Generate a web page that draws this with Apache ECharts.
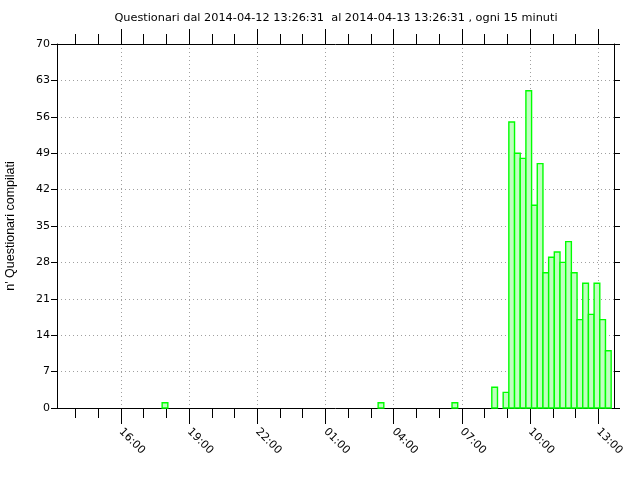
<!DOCTYPE html>
<html>
<head>
<meta charset="utf-8">
<script src="https://cdn.jsdelivr.net/npm/echarts@6/dist/echarts.min.js"></script>
<style>
  html, body { margin: 0; padding: 0; background: #fff; }
  #chart { width: 640px; height: 480px; }
</style>
</head>
<body>
<div id="chart"></div>
<script>
// periodo: 2014-04-12 13:26:31 -> 2014-04-13 13:26:31, un conteggio ogni 15 minuti
const startTime = Date.UTC(2014, 3, 12, 13, 26, 31);
const binMinutes = 15;
const counts = [
  0, 0, 0, 0, 0, 0, 0, 0, 0, 0, 0, 0, 0, 0, 0, 0,   // 13:26 - 17:11
  0, 0, 1, 0, 0, 0, 0, 0, 0, 0, 0, 0, 0, 0, 0, 0,   // 17:26 - 21:11
  0, 0, 0, 0, 0, 0, 0, 0, 0, 0, 0, 0, 0, 0, 0, 0,   // 21:26 - 01:11
  0, 0, 0, 0, 0, 0, 0, 0, 1, 0, 0, 0, 0, 0, 0, 0,   // 01:26 - 05:11
  0, 0, 0, 0, 0, 1, 0, 0, 0, 0, 0, 0, 4, 0, 3, 55,  // 05:26 - 09:11
  49, 48, 61, 39, 47, 26, 29, 30, 28, 32, 26, 17, 24, 18, 24, 17, // 09:26 - 13:11
  11                                                // 13:26
];
const yTicks = [0, 7, 14, 21, 28, 35, 42, 49, 56, 63, 70];
const majorHours = [16, 19, 22, 25, 28, 31, 34, 37];   // ore dal 2014-04-12 00:00
const minorHours = [14, 15, 17, 18, 20, 21, 23, 24, 26, 27, 29, 30, 32, 33, 35, 36];

const HOUR = 3600 * 1000;
const BIN = binMinutes * 60 * 1000;
const day0 = Date.UTC(2014, 3, 12, 0, 0, 0);
const majorTimes = majorHours.map(h => day0 + h * HOUR);
const minorTimes = minorHours.map(h => day0 + h * HOUR);
const xMin = startTime - BIN;
const xMax = startTime + (counts.length - 1) * BIN + BIN;

const barData = [];
counts.forEach((c, i) => {
  if (c > 0) barData.push([startTime + i * BIN, c]);
});

const fmtHour = v => {
  const d = new Date(v);
  return String(d.getUTCHours()).padStart(2, '0') + ':' + String(d.getUTCMinutes()).padStart(2, '0');
};

const font = 'DejaVu Sans';
const black = { color: '#000', width: 1 };

const chart = echarts.init(document.getElementById('chart'));
chart.setOption({
  animation: false,
  backgroundColor: '#fff',
  title: {
    text: 'Questionari dal 2014-04-12 13:26:31  al 2014-04-13 13:26:31 , ogni 15 minuti',
    left: 331,
    top: 8,
    textAlign: 'center',
    textStyle: { fontFamily: font, fontSize: 11.3, fontWeight: 'normal', color: '#000' }
  },
  grid: { left: 57, right: 26, top: 44, bottom: 72, containLabel: false, outerBoundsMode: 'none' },
  xAxis: [
    {
      type: 'value', position: 'bottom', min: xMin, max: xMax,
      axisLine: { show: true, lineStyle: black },
      axisTick: { show: true, inside: false, length: 16, lineStyle: black, customValues: majorTimes },
      axisLabel: {
        show: true, customValues: majorTimes, rotate: -45, margin: 22,
        formatter: fmtHour, fontFamily: font, fontSize: 11, color: '#000'
      },
      splitLine: { show: true, lineStyle: { color: '#a0a0a0', type: [1, 3], width: 1 } }
    },
    {
      type: 'value', position: 'bottom', min: xMin, max: xMax,
      axisLine: { show: false },
      axisTick: { show: true, inside: false, length: 10, lineStyle: black, customValues: minorTimes },
      axisLabel: { show: false },
      splitLine: { show: false }
    },
    {
      type: 'value', position: 'top', min: xMin, max: xMax,
      axisLine: { show: true, lineStyle: black },
      axisTick: { show: true, inside: false, length: 15, lineStyle: black, customValues: majorTimes },
      axisLabel: { show: false },
      splitLine: { show: false }
    },
    {
      type: 'value', position: 'top', min: xMin, max: xMax,
      axisLine: { show: false },
      axisTick: { show: true, inside: false, length: 10, lineStyle: black, customValues: minorTimes },
      axisLabel: { show: false },
      splitLine: { show: false }
    }
  ],
  yAxis: [
    {
      type: 'value', position: 'left', min: yTicks[0], max: yTicks[yTicks.length - 1], interval: 7,
      name: "n' Questionari compilati", nameLocation: 'middle', nameGap: 40, nameRotate: 90,
      nameTextStyle: { fontFamily: 'Liberation Sans', fontSize: 12.5, color: '#000' },
      axisLine: { show: true, lineStyle: black },
      axisTick: { show: true, inside: false, length: 6, lineStyle: black },
      axisLabel: { margin: 7, fontFamily: font, fontSize: 11, color: '#000' },
      splitLine: { show: true, lineStyle: { color: '#a0a0a0', type: [1, 3], width: 1 } }
    },
    {
      type: 'value', position: 'right', min: yTicks[0], max: yTicks[yTicks.length - 1], interval: 7,
      axisLine: { show: true, lineStyle: black },
      axisTick: { show: true, inside: false, length: 6, lineStyle: black },
      axisLabel: { show: false },
      splitLine: { show: false }
    }
  ],
  series: [
    {
      type: 'custom',
      xAxisIndex: 0,
      yAxisIndex: 0,
      data: barData,
      encode: { x: 0, y: 1 },
      renderItem: function (params, api) {
        const t = api.value(0);
        const v = api.value(1);
        const p0 = api.coord([t - BIN / 2, 0]);
        const p1 = api.coord([t + BIN / 2, v]);
        return {
          type: 'rect',
          shape: { x: p0[0], y: p1[1], width: p1[0] - p0[0], height: p0[1] - p1[1] },
          style: { fill: '#c0ffc0', stroke: '#00ff00', lineWidth: 1.4 }
        };
      }
    }
  ]
});
</script>
</body>
</html>
